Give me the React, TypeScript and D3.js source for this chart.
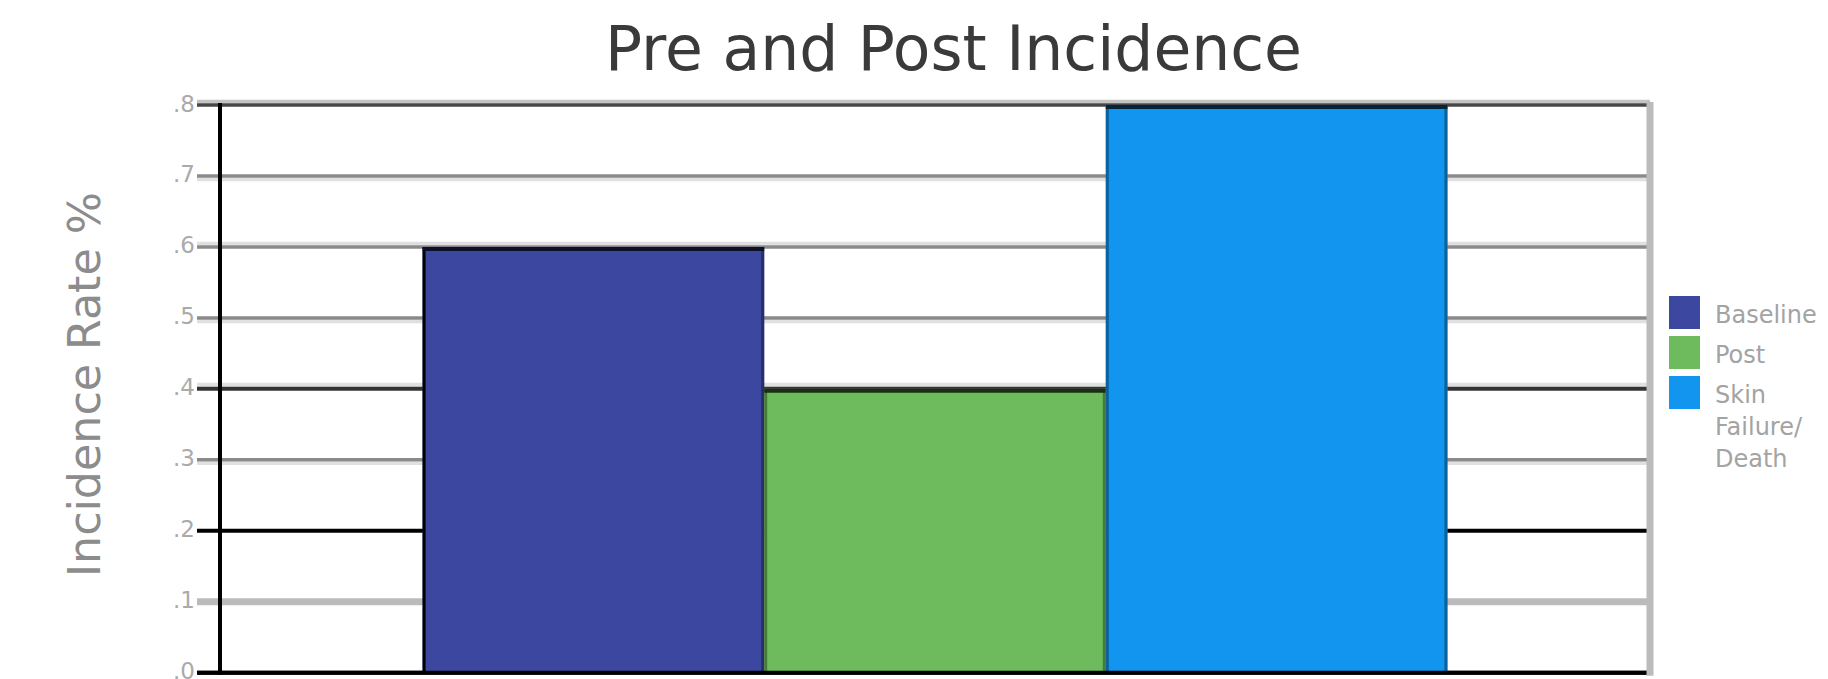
import React from "react";
import * as d3 from "d3";

const categories = ["Baseline", "Post", "Skin Failure/Death"];
const values = [0.6, 0.4, 0.8];
const legendLines = [["Baseline"], ["Post"], ["Skin", "Failure/", "Death"]];
const yTicks = [0, 0.1, 0.2, 0.3, 0.4, 0.5, 0.6, 0.7, 0.8];
const title = "Pre and Post Incidence";
const yTitle = "Incidence Rate %";

const colors = ["#3C479F", "#6DBB5C", "#1295EE"];

// gridline appearance per tick index (main colour/width, halo colour and side)
const gridStyles = [
  { c: "#000", w: 4, h: null, side: 0 },
  { c: "#bbbbbb", w: 7, h: null, side: 0 },
  { c: "#000", w: 4, h: null, side: 0 },
  { c: "#8a8a8a", w: 3.5, h: "#e0e0e0", side: 1 },
  { c: "#333", w: 4, h: "#e0e0e0", side: -1 },
  { c: "#8a8a8a", w: 3.5, h: "#e0e0e0", side: 1 },
  { c: "#8a8a8a", w: 3.5, h: "#e0e0e0", side: -1 },
  { c: "#8a8a8a", w: 3.5, h: "#e0e0e0", side: 1 },
  { c: "#474747", w: 3.5, h: "#c4c4c4", side: -1 },
];

const W = 1828;
const H = 679;
const plotLeft = 220;
const plotRight = 1650;
const plotTop = 105;
const plotBottom = 672.7;

export default function App() {
  const x = d3
    .scaleBand<string>()
    .domain(categories)
    .range([plotLeft, plotRight])
    .paddingInner(0)
    .paddingOuter(0.593);
  const y = d3.scaleLinear().domain([0, 0.8]).range([plotBottom, plotTop]);
  const fmt = (v: number) => d3.format(".1f")(v).replace(/^0/, "");

  return (
    <svg
      width={W}
      height={H}
      style={{ position: "absolute", left: 0, top: 0, background: "#fff" }}
      fontFamily="'DejaVu Sans', Verdana, sans-serif"
    >
      <rect x={0} y={0} width={W} height={H} fill="#fff" />
      <text
        x={953.5}
        y={70}
        textAnchor="middle"
        fontSize={62}
        fill="#3a3a3a"
        textLength={697}
        lengthAdjust="spacingAndGlyphs"
      >
        {title}
      </text>
      <text
        transform={`translate(100,${(192 + 577) / 2}) rotate(-90)`}
        textAnchor="middle"
        fontSize={44}
        fill="#8c8c8c"
        textLength={385}
        lengthAdjust="spacingAndGlyphs"
      >
        {yTitle}
      </text>

      {/* gridlines */}
      {yTicks.map((t, i) => {
        const s = gridStyles[i];
        const yy = y(t);
        return (
          <g key={"g" + i}>
            {s.h && (
              <line
                x1={197}
                x2={plotRight}
                y1={yy + s.side * s.w}
                y2={yy + s.side * s.w}
                stroke={s.h}
                strokeWidth={s.w}
              />
            )}
            <line x1={197} x2={plotRight} y1={yy} y2={yy} stroke={s.c} strokeWidth={s.w} />
          </g>
        );
      })}

      {/* tick labels */}
      {yTicks.map((t, i) => (
        <text
          key={"t" + i}
          x={195}
          y={y(t)}
          textAnchor="end"
          dominantBaseline="middle"
          fontSize={23}
          fill="#aaaaaa"
        >
          {fmt(t)}
        </text>
      ))}

      {/* bars */}
      {categories.map((c, i) => {
        const x0 = x(c) as number;
        const bw = x.bandwidth();
        const y0 = y(values[i]);
        const col = d3.color(colors[i]) as d3.RGBColor;
        const side = col.darker(1.2).formatHex();
        const top = col.darker(4).formatHex();
        return (
          <g key={"b" + i}>
            <rect x={x0} y={y0} width={bw} height={plotBottom - y0} fill={colors[i]} />
            <line x1={x0 + 1.5} x2={x0 + 1.5} y1={y0} y2={plotBottom} stroke={i === 0 ? "#000" : side} strokeWidth={3} />
            <line x1={x0 + bw - 1.5} x2={x0 + bw - 1.5} y1={y0} y2={plotBottom} stroke={side} strokeWidth={3} />
            <line x1={x0} x2={x0 + bw} y1={y0 + 2} y2={y0 + 2} stroke={top} strokeWidth={4} />
          </g>
        );
      })}

      {/* bottom axis line & y axis line */}
      <line x1={197} x2={plotRight} y1={plotBottom} y2={plotBottom} stroke="#000" strokeWidth={4} />
      <line x1={plotLeft} x2={plotLeft} y1={plotTop - 2} y2={plotBottom + 2} stroke="#000" strokeWidth={4} />
      <line x1={plotRight} x2={plotRight} y1={plotTop - 3} y2={plotBottom + 3} stroke="#bbbbbb" strokeWidth={7} />

      {/* legend */}
      {categories.map((c, i) => (
        <g key={"l" + i}>
          <rect x={1669} y={296 + i * 40} width={31} height={33} fill={colors[i]} />
          {legendLines[i].map((ln, j) => (
            <text key={j} x={1715} y={323 + i * 40 + j * 32} fontSize={24} fill="#a3a3a3">
              {ln}
            </text>
          ))}
        </g>
      ))}
    </svg>
  );
}
